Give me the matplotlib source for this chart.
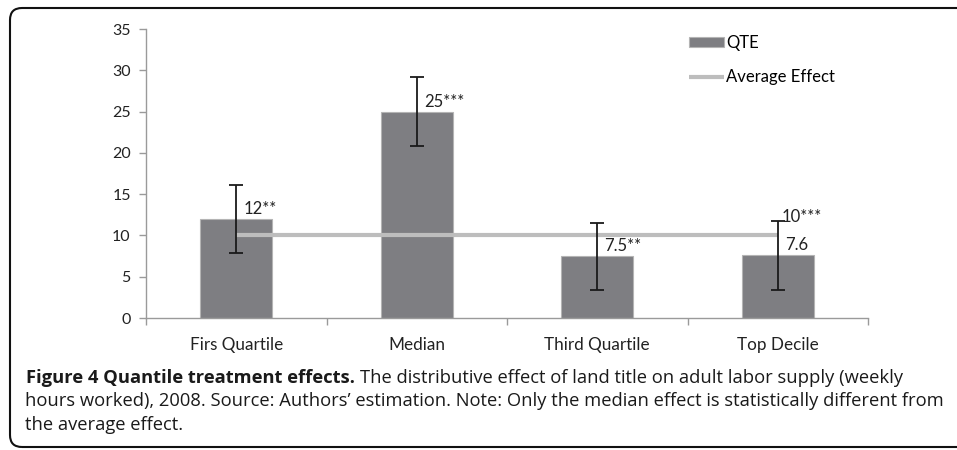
import matplotlib
matplotlib.use("Agg")
import matplotlib.pyplot as plt
from matplotlib.patches import FancyBboxPatch

# data
categories = ["Firs Quartile", "Median", "Third Quartile", "Top Decile"]
qte = [12, 25, 7.5, 7.6]
err = [4.1, 4.15, 4.05, 4.2]
qte_labels = ["12**", "25***", "7.5**", "7.6"]
avg_effect = [10, 10, 10, 10]
avg_label = "10***"

plt.rcParams['font.family'] = ['Lato', 'DejaVu Sans']

W, H = 957, 450
fig = plt.figure(figsize=(W/100, H/100), dpi=100)
ax = fig.add_axes([146/W, 1 - 318/H, 722/W, 289/H])

x = list(range(len(categories)))
bars = ax.bar(x, qte, width=0.4, color="#7e7e82", edgecolor="#b4b4b4",
              linewidth=0.8, label="QTE", zorder=2)
ax.errorbar(x, qte, yerr=err, fmt="none", ecolor="#1a1a1a", elinewidth=1.3,
            capsize=5, capthick=1.3, zorder=4)
line, = ax.plot(x, avg_effect, color="#bdbdbd", linewidth=3,
                solid_capstyle="butt", label="Average Effect", zorder=3)

# data labels
for i, (v, s) in enumerate(zip(qte, qte_labels)):
    ax.text(i + 0.04, v + 1.2, s, fontsize=12, va="center", ha="left",
            color="#222222", zorder=5)
ax.text(x[-1] + 0.02, avg_effect[-1] + 2.2, avg_label, fontsize=12,
        va="center", ha="left", color="#222222", zorder=5)

ax.set_xlim(-0.5, 3.5)
ax.set_ylim(0, 35)
ax.set_yticks(range(0, 36, 5))
ax.set_xticks([-0.5, 0.5, 1.5, 2.5, 3.5])
ax.set_xticklabels([])
ax.set_xticks(x, minor=True)
ax.set_xticklabels(categories, minor=True, fontsize=12.3, color="#222222")
ax.tick_params(axis="x", which="minor", length=0, pad=14)
ax.tick_params(axis="x", which="major", length=5, color="#9a9a9a", width=1)
ax.tick_params(axis="y", length=5, color="#9a9a9a", width=1, labelsize=11.5,
               labelcolor="#222222", pad=6)
for side in ["top", "right"]:
    ax.spines[side].set_visible(False)
for side in ["left", "bottom"]:
    ax.spines[side].set_color("#9a9a9a")
    ax.spines[side].set_linewidth(1)

ax.legend([bars, line], ["QTE", "Average Effect"], loc="upper left",
          bbox_to_anchor=(689/W, 1 - 35/H), bbox_transform=fig.transFigure,
          frameon=False, fontsize=12, handlelength=2.1, handleheight=0.6,
          handletextpad=0.15, labelspacing=1.1, borderpad=0, borderaxespad=0)

# rounded border box, pixel coordinates
box = FancyBboxPatch((10, 3), 1000, H - 8 - 3,
                     boxstyle="round,pad=0,rounding_size=12",
                     transform=None, fill=False,
                     edgecolor="#111111", linewidth=1.5)
fig.add_artist(box)

# caption
cap_font = ['Open Sans', 'DejaVu Sans']
cap_size = 13.2
r = fig.canvas.get_renderer()
bold = fig.text(26/W, 1 - 383/H, "Figure 4 Quantile treatment effects.",
                fontsize=cap_size, fontweight="bold", family=cap_font,
                color="#1a1a1a", va="baseline")
bb = bold.get_window_extent(renderer=r)
fig.text((bb.x1 + 5)/W, 1 - 383/H,
         "The distributive effect of land title on adult labor supply (weekly",
         fontsize=cap_size, family=cap_font, color="#1a1a1a", va="baseline")
fig.text(25/W, 1 - 406.5/H,
         "hours worked), 2008. Source: Authors\u2019 estimation. Note: Only the median effect is statistically different from",
         fontsize=cap_size, family=cap_font, color="#1a1a1a", va="baseline")
fig.text(25/W, 1 - 430/H, "the average effect.",
         fontsize=cap_size, family=cap_font, color="#1a1a1a", va="baseline")

fig.savefig("out.png", dpi=100)
